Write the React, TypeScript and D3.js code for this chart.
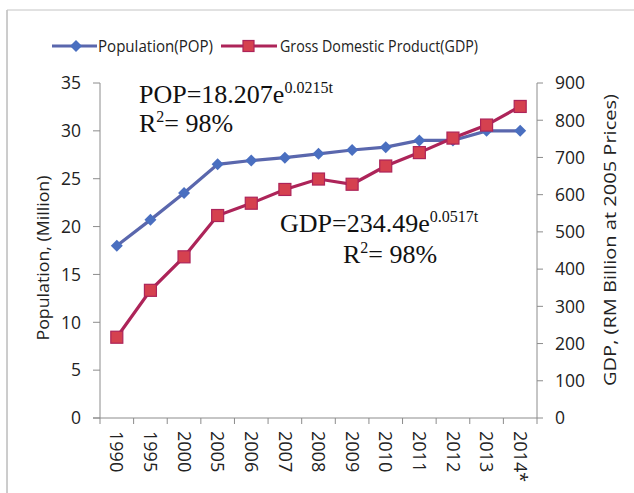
import React from "react";
import * as d3 from "d3";

const years = ["1990", "1995", "2000", "2005", "2006", "2007", "2008", "2009", "2010", "2011", "2012", "2013", "2014*"];
const population = [18.0, 20.7, 23.5, 26.5, 26.9, 27.2, 27.6, 28.0, 28.3, 29.0, 29.0, 30.0, 30.0];
const gdp = [217, 343, 433, 544, 577, 614, 642, 628, 677, 713, 752, 787, 837];
const popTicks = [0, 5, 10, 15, 20, 25, 30, 35];
const gdpTicks = [0, 100, 200, 300, 400, 500, 600, 700, 800, 900];

const W = 634;
const H = 493;
const left = 100;
const right = 537;
const top = 83;
const bottom = 418;

const BLUE_LINE = "#5a67ad";
const BLUE_MARK = "#4a6fc0";
const RED_LINE = "#ad2459";
const RED_MARK = "#d5414f";
const AXIS = "#8c8c8c";
const SANS = "'Open Sans', 'DejaVu Sans', sans-serif";
const SERIF = "'Liberation Serif', 'Times New Roman', serif";

export default function App() {
  const x = d3.scaleBand<string>().domain(years).range([left, right]);
  const yPop = d3.scaleLinear().domain([0, 35]).range([bottom, top]);
  const yGdp = d3.scaleLinear().domain([0, 900]).range([bottom, top]);
  const cx = (d: string) => (x(d) ?? 0) + x.bandwidth() / 2;

  const popLine = d3.line<number>().x((_, i) => cx(years[i])).y((d) => yPop(d));
  const gdpLine = d3.line<number>().x((_, i) => cx(years[i])).y((d) => yGdp(d));

  const diamond = (px: number, py: number, r = 6) =>
    `M${px},${py - r}L${px + r},${py}L${px},${py + r}L${px - r},${py}Z`;

  return (
    <div style={{ position: "fixed", left: 0, top: 0, width: W, height: H, background: "#fff" }}>
      <svg width={W} height={H} viewBox={`0 0 ${W} ${H}`}>
        <rect width={W} height={H} fill="#fff" />
        {/* frame */}
        <line x1={7} y1={10} x2={7} y2={H} stroke="#9a9a9a" strokeWidth={1} />
        <line x1={7} y1={10} x2={W} y2={10} stroke="#c4c4c4" strokeWidth={1} />

        {/* legend */}
        <g fontFamily={SANS} fontSize={16} fill="#222">
          <line x1={52} y1={46} x2={97} y2={46} stroke={BLUE_LINE} strokeWidth={3} />
          <path d={diamond(76, 46)} fill={BLUE_MARK} />
          <text x={98} y={52} textLength={115} lengthAdjust="spacingAndGlyphs">Population(POP)</text>
          <line x1={221} y1={46} x2={277} y2={46} stroke={RED_LINE} strokeWidth={3} />
          <rect x={243} y={40.5} width={11} height={11} fill={RED_MARK} stroke={RED_LINE} strokeWidth={1.2} />
          <text x={280} y={52} textLength={198} lengthAdjust="spacingAndGlyphs">Gross Domestic Product(GDP)</text>
        </g>

        {/* axes */}
        <g stroke={AXIS} strokeWidth={1} fill="none">
          <line x1={left} y1={top} x2={left} y2={bottom} />
          <line x1={right} y1={top} x2={right} y2={bottom} />
          <line x1={left - 7} y1={bottom} x2={right} y2={bottom} />
          {popTicks.map((t) => (
            <line key={"lp" + t} x1={left - 7} y1={yPop(t)} x2={left} y2={yPop(t)} />
          ))}
          {gdpTicks.map((t) => (
            <line key={"rg" + t} x1={right} y1={yGdp(t)} x2={right + 6} y2={yGdp(t)} />
          ))}
          {years.map((d) => (
            <line key={"xt" + d} x1={x(d)} y1={bottom} x2={x(d)} y2={bottom + 6} />
          ))}
          <line x1={right} y1={bottom} x2={right} y2={bottom + 6} />
        </g>

        <g fontFamily={SANS} fontSize={17.5} fill="#222">
          {popTicks.map((t) => (
            <text key={"lpl" + t} x={81} y={yPop(t)} dy="0.36em" textAnchor="end">{t}</text>
          ))}
          {gdpTicks.map((t) => (
            <text key={"rgl" + t} x={555} y={yGdp(t)} dy="0.36em" textAnchor="start">{t}</text>
          ))}
          {years.map((d) => (
            <text key={"xl" + d} transform={`translate(${cx(d)},${bottom + 13}) rotate(90)`} dy="0.35em" fontSize={18}>{d}</text>
          ))}
        </g>

        {/* axis titles */}
        <text transform={`translate(43,258) rotate(-90)`} dy="0.35em" textAnchor="middle" fontFamily={SANS} fontSize={17} fill="#222"
          textLength={165} lengthAdjust="spacingAndGlyphs">
          Population, (Million)
        </text>
        <text transform={`translate(610,240) rotate(-90)`} dy="0.35em" textAnchor="middle" fontFamily={SANS} fontSize={17} fill="#222"
          textLength={292} lengthAdjust="spacingAndGlyphs">
          GDP, (RM Billion at 2005 Prices)
        </text>

        {/* series */}
        <path d={popLine(population) ?? ""} fill="none" stroke={BLUE_LINE} strokeWidth={3.2} />
        {population.map((v, i) => (
          <path key={"pm" + i} d={diamond(cx(years[i]), yPop(v))} fill={BLUE_MARK} />
        ))}
        <path d={gdpLine(gdp) ?? ""} fill="none" stroke={RED_LINE} strokeWidth={3.2} />
        {gdp.map((v, i) => (
          <rect key={"gm" + i} x={cx(years[i]) - 6} y={yGdp(v) - 6} width={12} height={12} fill={RED_MARK} stroke={RED_LINE} strokeWidth={1.2} />
        ))}

        {/* annotations */}
        <g fontFamily={SERIF} fill="#111">
          <text x={139} y={103} fontSize={26}>
            POP=18.207e<tspan fontSize={16} dy={-10}>0.0215t</tspan>
          </text>
          <text x={139} y={132} fontSize={26}>
            R<tspan fontSize={16} dy={-10}>2</tspan><tspan dy={10}>= 98%</tspan>
          </text>
          <text x={280} y={232} fontSize={26}>
            GDP=234.49e<tspan fontSize={16} dy={-10}>0.0517t</tspan>
          </text>
          <text x={343} y={263} fontSize={26}>
            R<tspan fontSize={16} dy={-10}>2</tspan><tspan dy={10}>= 98%</tspan>
          </text>
        </g>
      </svg>
    </div>
  );
}
